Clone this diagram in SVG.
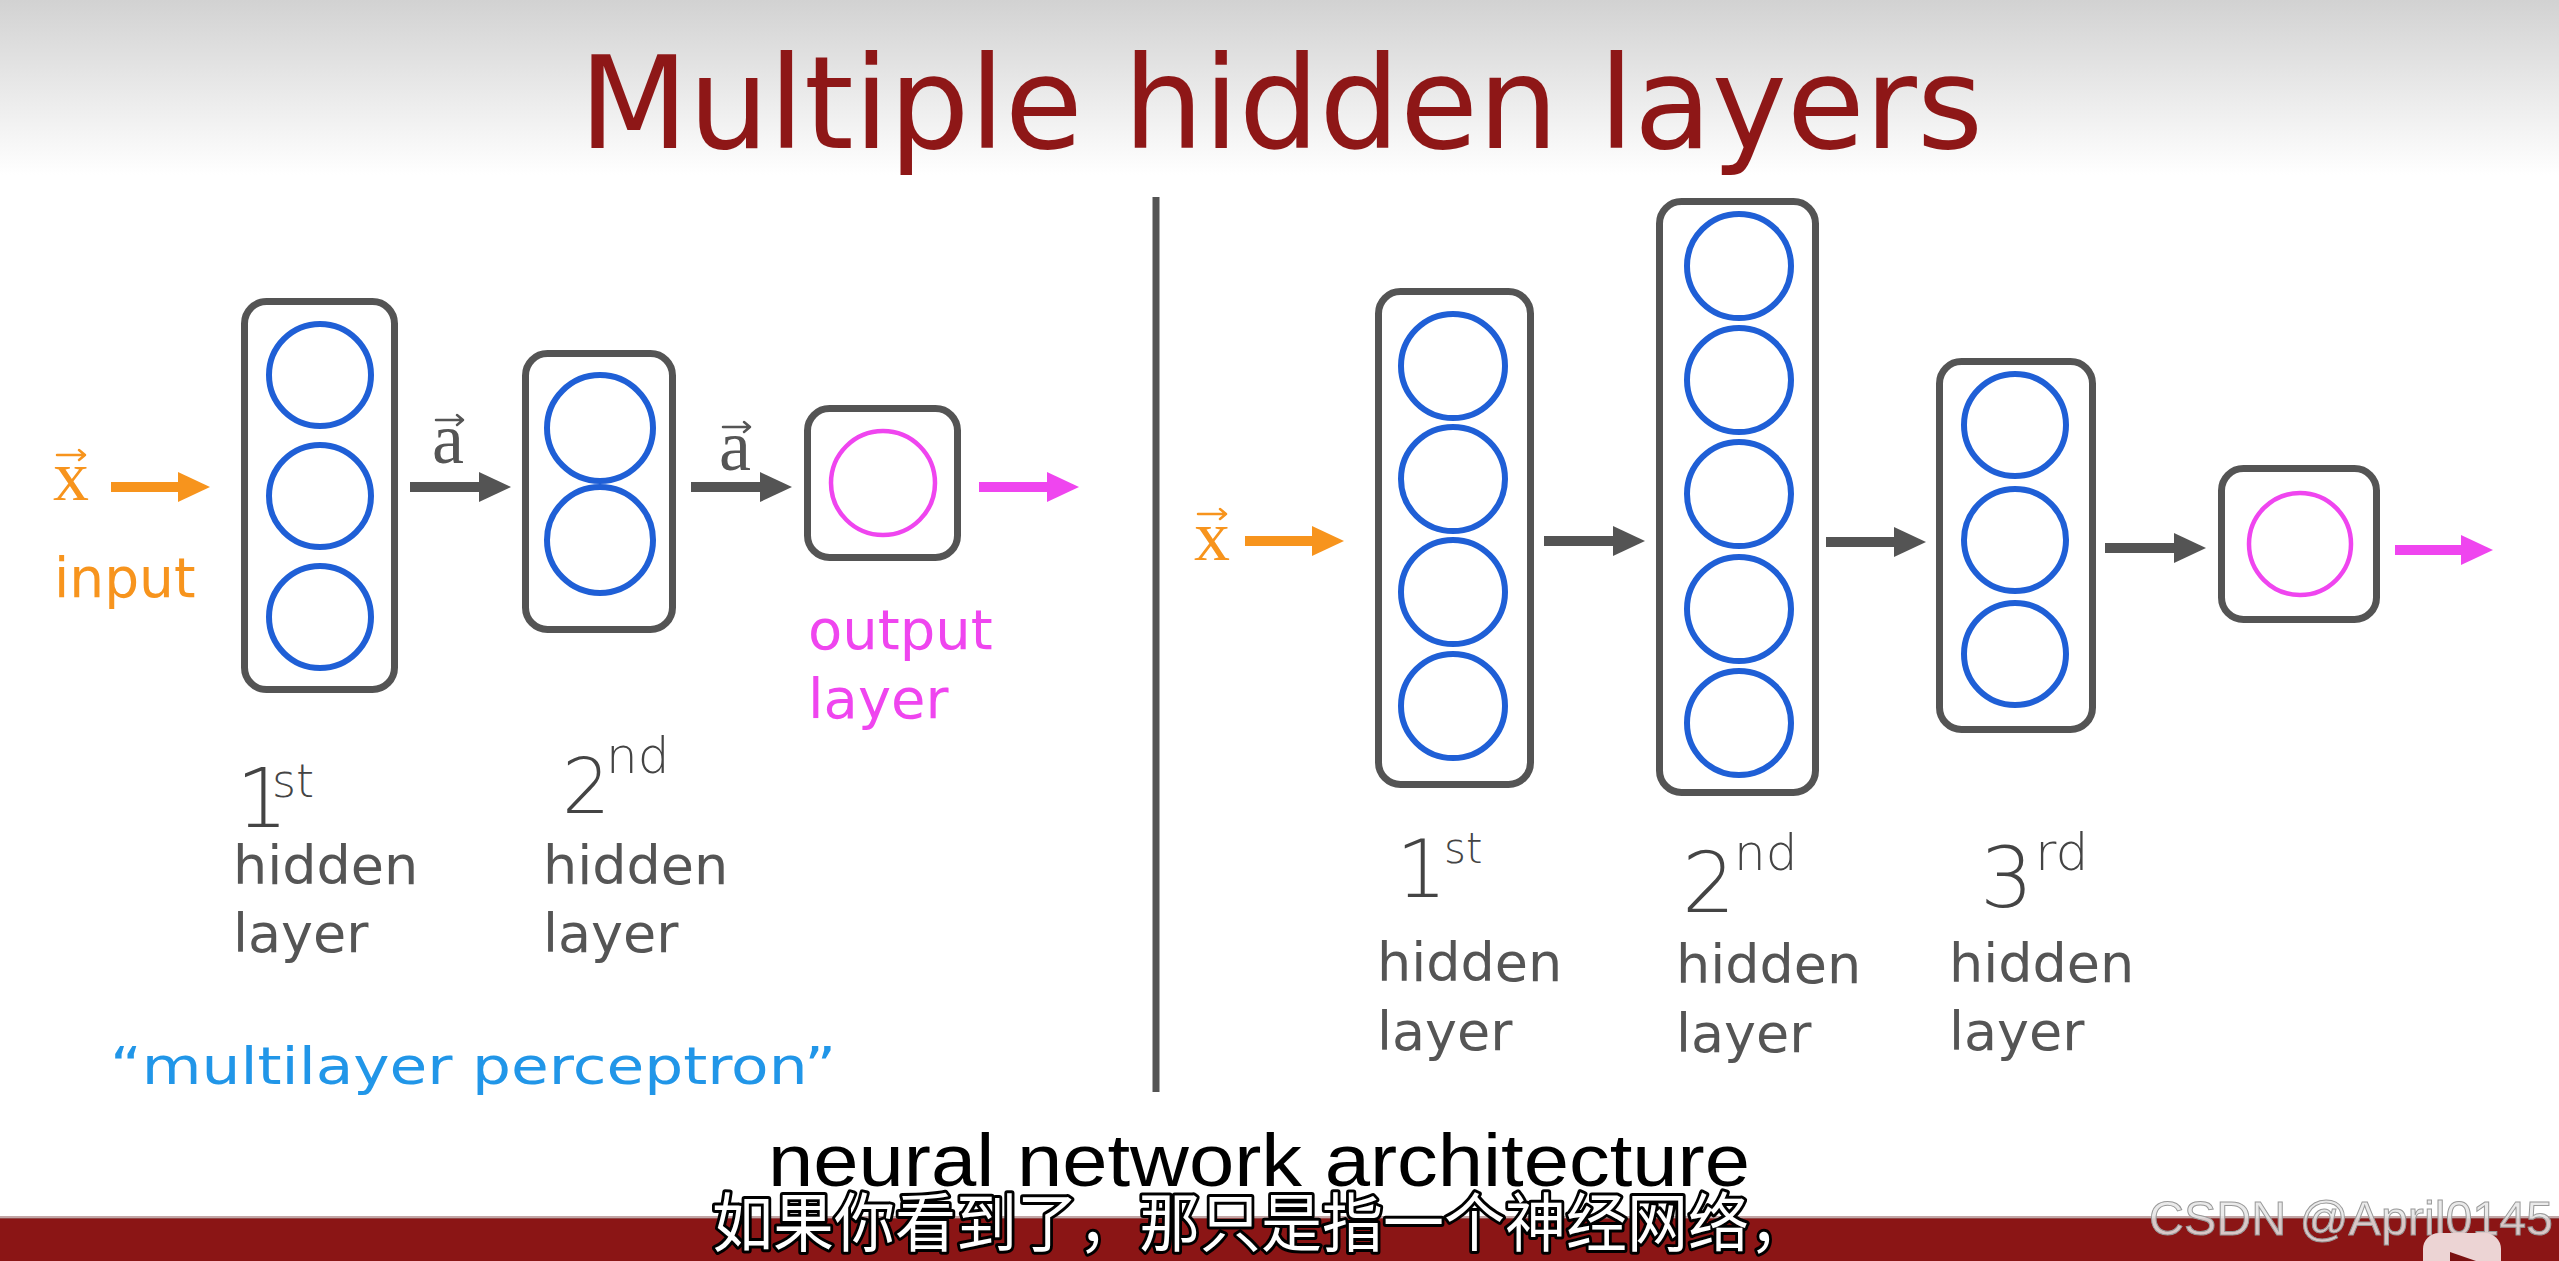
<svg xmlns="http://www.w3.org/2000/svg" width="2559" height="1261" viewBox="0 0 2559 1261">
<defs>
<linearGradient id="bg" x1="0" y1="0" x2="0" y2="1">
<stop offset="0" stop-color="#d2d2d2"/>
<stop offset="1" stop-color="#ffffff"/>
</linearGradient>
<marker id="hg" markerUnits="userSpaceOnUse" markerWidth="32" markerHeight="30" refX="2" refY="15" orient="auto" overflow="visible"><path d="M0,0 L32,15 L0,30 z" fill="#545454"/></marker>
<marker id="ho" markerUnits="userSpaceOnUse" markerWidth="32" markerHeight="30" refX="2" refY="15" orient="auto" overflow="visible"><path d="M0,0 L32,15 L0,30 z" fill="#f7941d"/></marker>
<marker id="hp" markerUnits="userSpaceOnUse" markerWidth="32" markerHeight="30" refX="2" refY="15" orient="auto" overflow="visible"><path d="M0,0 L32,15 L0,30 z" fill="#ef45ef"/></marker>
</defs>
<style>
.box{fill:#ffffff;stroke:#545454;stroke-width:7}
.n{fill:none;stroke:#1f5fd6;stroke-width:6}
.o{fill:none;stroke:#ef45ef;stroke-width:4.5}
.ag{stroke:#545454;stroke-width:10;marker-end:url(#hg)}
.ao{stroke:#f7941d;stroke-width:10;marker-end:url(#ho)}
.ap{stroke:#ef45ef;stroke-width:10;marker-end:url(#hp)}
.lbl{font-family:"DejaVu Sans",Verdana,sans-serif;font-size:54px;fill:#555555}
.ord{font-family:"DejaVu Sans","Liberation Sans",sans-serif;fill:#444444;font-weight:300}
.vec{font-family:"Liberation Serif","DejaVu Serif",serif;font-size:72px}
.acc{fill:none;stroke-width:2.5;stroke-linecap:round;stroke-linejoin:round}
</style>
<rect x="0" y="0" width="2559" height="1261" fill="#ffffff"/>
<rect x="0" y="0" width="2559" height="175" fill="url(#bg)"/>
<text x="579" y="148" font-family="DejaVu Sans,Verdana,sans-serif" font-size="128" fill="#8e1717" textLength="1404" lengthAdjust="spacingAndGlyphs">Multiple hidden layers</text>
<line x1="1156" y1="197" x2="1156" y2="1092" stroke="#545454" stroke-width="7"/>

<g id="connectors">
<line class="ao" x1="111" y1="487" x2="180" y2="487"/>
<line class="ag" x1="410" y1="487" x2="481" y2="487"/>
<line class="ag" x1="691" y1="487" x2="762" y2="487"/>
<line class="ap" x1="979" y1="487" x2="1049" y2="487"/>
<line class="ao" x1="1245" y1="541" x2="1314" y2="541"/>
<line class="ag" x1="1544" y1="541" x2="1615" y2="541"/>
<line class="ag" x1="1826" y1="542" x2="1896" y2="542"/>
<line class="ag" x1="2105" y1="548" x2="2176" y2="548"/>
<line class="ap" x1="2395" y1="550" x2="2463" y2="550"/>
</g>

<g id="left-input">
<text class="vec" x="53" y="500" fill="#f7941d">x</text>
<path class="acc" stroke="#f7941d" d="M57,455 H85 M79,450 L85,455 L79,460"/>
<text x="54" y="597" font-family="DejaVu Sans,Verdana,sans-serif" font-size="55" fill="#f7941d">input</text>
</g>
<g id="left-a1">
<text class="vec" x="432" y="463" fill="#555555">a</text>
<path class="acc" stroke="#555555" d="M436,420 H463 M457,415 L463,420 L457,425"/>
</g>
<g id="left-a2">
<text class="vec" x="719" y="470" fill="#555555">a</text>
<path class="acc" stroke="#555555" d="M723,427 H750 M744,422 L750,427 L744,432"/>
</g>

<g id="left-layer1">
<rect class="box" x="244.5" y="301.5" width="150" height="388" rx="22"/>
<circle class="n" cx="320" cy="375" r="51"/>
<circle class="n" cx="320" cy="496" r="51"/>
<circle class="n" cx="320" cy="617" r="51"/>
<text class="ord" x="236" y="827" font-size="82">1<tspan x="272" y="797" font-size="46">st</tspan></text>
<text class="lbl" x="233" y="884">hidden</text>
<text class="lbl" x="233" y="952">layer</text>
</g>
<g id="left-layer2">
<rect class="box" x="525.5" y="353.5" width="147" height="276" rx="22"/>
<circle class="n" cx="600" cy="428" r="53"/>
<circle class="n" cx="600" cy="540" r="53"/>
<text class="ord" x="562" y="813" font-size="76">2<tspan x="606" y="773" font-size="50">nd</tspan></text>
<text class="lbl" x="543" y="884">hidden</text>
<text class="lbl" x="543" y="952">layer</text>
</g>
<g id="left-output">
<rect class="box" x="807.5" y="408.5" width="150" height="149" rx="22"/>
<circle class="o" cx="883" cy="483" r="52"/>
<text x="808" y="649" font-family="DejaVu Sans,Verdana,sans-serif" font-size="56" fill="#ef45ef">output</text>
<text x="808" y="718" font-family="DejaVu Sans,Verdana,sans-serif" font-size="56" fill="#ef45ef">layer</text>
</g>
<g id="mlp-note">
<text x="110" y="1084" font-family="DejaVu Sans,sans-serif" font-size="52" fill="#2196e8" textLength="726" lengthAdjust="spacingAndGlyphs">“multilayer perceptron”</text>
</g>

<g id="right-input">
<text class="vec" x="1194" y="560" fill="#f7941d">x</text>
<path class="acc" stroke="#f7941d" d="M1198,514 H1226 M1220,509 L1226,514 L1220,519"/>
</g>
<g id="right-layer1">
<rect class="box" x="1378.5" y="291.5" width="152" height="493" rx="22"/>
<circle class="n" cx="1453" cy="366" r="52"/>
<circle class="n" cx="1453" cy="479" r="52"/>
<circle class="n" cx="1453" cy="592" r="52"/>
<circle class="n" cx="1453" cy="706" r="52"/>
<text class="ord" x="1396" y="897" font-size="80">1<tspan x="1444" y="863" font-size="42">st</tspan></text>
<text class="lbl" x="1377" y="981">hidden</text>
<text class="lbl" x="1377" y="1050">layer</text>
</g>
<g id="right-layer2">
<rect class="box" x="1659.5" y="201.5" width="156" height="591" rx="22"/>
<circle class="n" cx="1739" cy="266" r="52"/>
<circle class="n" cx="1739" cy="380" r="52"/>
<circle class="n" cx="1739" cy="494" r="52"/>
<circle class="n" cx="1739" cy="609" r="52"/>
<circle class="n" cx="1739" cy="723" r="52"/>
<text class="ord" x="1682" y="912" font-size="84">2<tspan x="1734" y="870" font-size="50">nd</tspan></text>
<text class="lbl" x="1676" y="983">hidden</text>
<text class="lbl" x="1676" y="1052">layer</text>
</g>
<g id="right-layer3">
<rect class="box" x="1939.5" y="361.5" width="153" height="368" rx="22"/>
<circle class="n" cx="2015" cy="425" r="51"/>
<circle class="n" cx="2015" cy="540" r="51"/>
<circle class="n" cx="2015" cy="654" r="51"/>
<text class="ord" x="1980" y="907" font-size="84">3<tspan x="2035" y="870" font-size="52">rd</tspan></text>
<text class="lbl" x="1949" y="982">hidden</text>
<text class="lbl" x="1949" y="1050">layer</text>
</g>
<g id="right-output">
<rect class="box" x="2221.5" y="468.5" width="155" height="151" rx="22"/>
<circle class="o" cx="2300" cy="544" r="51"/>
</g>

<rect x="0" y="1218" width="2559" height="43" fill="#8b1515"/>
<rect x="0" y="1216" width="2559" height="3" fill="#9a6a6a" opacity="0.6"/>
<g id="subtitles">
<text x="768" y="1186" font-family="Liberation Sans,Arial,sans-serif" font-size="74" fill="#000000" textLength="982" lengthAdjust="spacingAndGlyphs">neural network architecture</text>
<text x="712" y="1246" font-family="Liberation Sans,'Noto Sans CJK SC',sans-serif" font-size="64" fill="#ffffff" stroke="#000000" stroke-width="6" paint-order="stroke" stroke-linejoin="round" textLength="1098" lengthAdjust="spacingAndGlyphs">如果你看到了，那只是指一个神经网络，</text>
</g>
<g id="watermark">
<text x="2149" y="1235" font-family="Liberation Sans,Arial,sans-serif" font-size="49" fill="#e6e6e6" fill-opacity="0.85" stroke="#999999" stroke-width="1" textLength="404" lengthAdjust="spacingAndGlyphs">CSDN @April0145</text>
<rect x="2423" y="1233" width="78" height="50" rx="16" fill="#ecd4d4"/>
<path d="M2450,1252 L2476,1261 L2450,1261 z" fill="#7a1010"/>
</g>
</svg>
